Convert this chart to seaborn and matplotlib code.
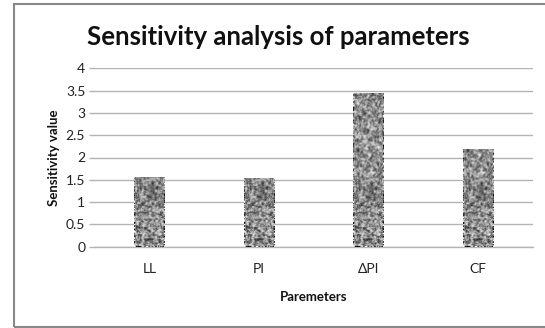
import numpy as np
import pandas as pd
import matplotlib
matplotlib.use("Agg")
import matplotlib.pyplot as plt
import seaborn as sns
from matplotlib.patches import Rectangle

categories = ["LL", "PI", "ΔPI", "CF"]
values = [1.57, 1.55, 3.44, 2.19]
yticks = [0, 0.5, 1, 1.5, 2, 2.5, 3, 3.5, 4]
ytick_labels = ["0", "0.5", "1", "1.5", "2", "2.5", "3", "3.5", "4"]

sns.set_theme(style="white")
plt.rcParams['font.family'] = ['Lato', 'DejaVu Sans']

df = pd.DataFrame({"param": categories, "value": values})

fig = plt.figure(figsize=(5.45, 3.28), dpi=100)
ax = fig.add_axes([95/545, 1-246.7/328, (533-95)/545, (246.7-68.3)/328])

sns.barplot(data=df, x="param", y="value", ax=ax, color="#a8a8a8",
            width=0.28, saturation=1, edgecolor="none")

# granite-like texture (style only)
rng = np.random.default_rng(7)
tex = rng.random((180, 32))
def smooth(a):
    b = a.copy()
    b[1:-1, 1:-1] = (a[:-2, 1:-1] + a[2:, 1:-1] + a[1:-1, :-2] + a[1:-1, 2:] + 2 * a[1:-1, 1:-1]) / 6
    return b
sm = smooth(smooth(tex))
tex = 0.75 * sm + 0.25 * tex
tex = (tex - tex.mean()) / tex.std()
for p in ax.patches:
    x0 = p.get_x()
    w = p.get_width()
    im = ax.imshow(tex, cmap="gray", vmin=-3.2, vmax=2.6, aspect="auto",
                   extent=[x0, x0 + w, 0, 4], interpolation="bilinear", zorder=3)
    im.set_clip_path(p)

ax.set_xlim(-0.5, 3.5)
ax.set_ylim(0, 4)
ax.set_yticks(yticks)
ax.set_yticklabels(ytick_labels)
ax.yaxis.grid(True, color="#b4b4b4", linewidth=1.0)
ax.set_axisbelow(True)
for s in ["top", "right", "left"]:
    ax.spines[s].set_visible(False)
ax.spines["bottom"].set_color("#b4b4b4")
ax.spines["bottom"].set_linewidth(1.0)
ax.tick_params(axis="y", length=4, color="#b4b4b4", width=1.0, labelsize=10,
               labelcolor="#222222", left=True, pad=3)
ax.tick_params(axis="x", length=0, labelsize=10, labelcolor="#222222", pad=12)

ax.set_xlabel("Paremeters", fontsize=9.5, fontweight="bold", labelpad=11, color="#111111")
ax.set_ylabel("Sensitivity value", fontsize=9.5, fontweight="bold", labelpad=4, color="#111111")

fig.text(278/545, 1 - 37/328, "Sensitivity analysis of parameters",
         ha="center", va="center", fontsize=18.5, fontweight="bold", color="#111111")

fig.patches.append(Rectangle((14/545, 1-327/328), 1.0, (327-4)/328,
                             transform=fig.transFigure, fill=False,
                             edgecolor="#888888", linewidth=1.5))

fig.savefig("out.png", dpi=100)
